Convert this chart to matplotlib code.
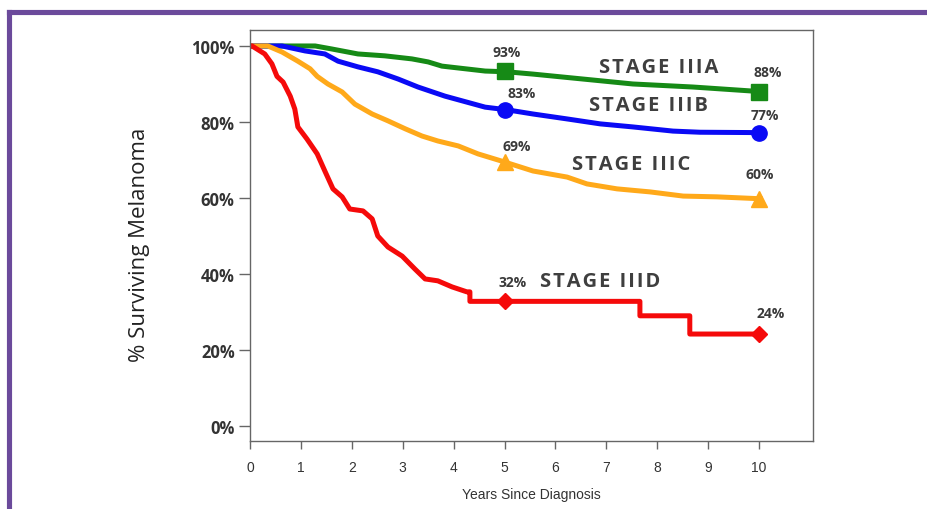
import matplotlib.pyplot as plt
from matplotlib.lines import Line2D

# Survival curves (years, % surviving)
years_a = [0, 1.28, 1.61, 2.12, 2.65, 3.18, 3.5, 3.77, 4.62, 5.05, 5.56, 6.54, 7.52, 8.7, 10.02]
surv_a = [100, 100, 99.2, 97.9, 97.4, 96.6, 95.8, 94.7, 93.4, 93.2, 92.6, 91.3, 90.0, 89.2, 88.0]

years_b = [0, 0.63, 1.08, 1.47, 1.73, 2.12, 2.51, 2.91, 3.3, 3.83, 4.62, 5.05, 5.56, 6.23, 6.88, 7.52, 8.31, 8.84, 10.02]
surv_b = [100, 100, 98.7, 97.9, 96.0, 94.5, 93.2, 91.3, 89.2, 86.8, 83.9, 83.2, 82.1, 80.8, 79.5, 78.7, 77.6, 77.3, 77.2]

years_c = [0, 0.35, 0.63, 0.94, 1.18, 1.32, 1.53, 1.81, 2.06, 2.4, 2.71, 3.05, 3.38, 3.69, 4.09, 4.48,
           4.97, 5.56, 6.23, 6.62, 7.21, 7.86, 8.51, 9.17, 10.02]
surv_c = [100, 100, 98.4, 96.0, 94.0, 92.0, 90.0, 87.9, 84.7, 82.1, 80.3, 78.2, 76.3, 75.0, 73.7, 71.6,
          69.6, 67.1, 65.5, 63.7, 62.4, 61.6, 60.5, 60.3, 59.8]

years_d = [0, 0.04, 0.29, 0.43, 0.53, 0.65, 0.79, 0.88, 0.94, 1.12, 1.32, 1.47, 1.63, 1.81, 1.96, 2.22,
           2.4, 2.51, 2.71, 2.99, 3.24, 3.44, 3.69, 3.97, 4.26, 4.32, 4.32, 7.66, 7.66, 8.64, 8.64, 10.02]
surv_d = [100, 100, 97.9, 95.3, 92.0, 90.5, 86.8, 83.4, 78.7, 75.5, 71.6, 67.1, 62.4, 60.3, 57.1, 56.6,
          54.5, 50.0, 47.1, 44.7, 41.3, 38.7, 38.2, 36.6, 35.3, 35.3, 32.8, 32.8, 29.0, 29.0, 24.2, 24.2]

# marker points at 5 and 10 years
mark_years = [5, 10]
mark_a = [93.4, 88.0]
mark_b = [83.2, 77.2]
mark_c = [69.6, 59.8]
mark_d = [32.8, 24.2]

labels_a = ['93%', '88%']
labels_b = ['83%', '77%']
labels_c = ['69%', '60%']
labels_d = ['32%', '24%']

yticks = [0, 20, 40, 60, 80, 100]
xticks = list(range(0, 11))

fig = plt.figure(figsize=(9.27, 5.10), dpi=100)
ax = fig.add_axes([0.2697, 0.1333, 0.6073, 0.8059])

lw = 3.6
ax.plot(years_a, surv_a, color='#168a16', lw=lw)
ax.plot(years_b, surv_b, color='#0a0af5', lw=lw)
ax.plot(years_c, surv_c, color='#ffa91a', lw=lw)
ax.plot(years_d, surv_d, color='#f50a0a', lw=lw)

ax.plot(mark_years, mark_a, 's', color='#168a16', ms=11, ls='none')
ax.plot(mark_years, mark_b, 'o', color='#0a0af5', ms=11, ls='none')
ax.plot(mark_years, mark_c, '^', color='#ffa91a', ms=11, ls='none')
ax.plot(mark_years, mark_d, 'D', color='#f50a0a', ms=8, ls='none')

pct_style = dict(fontsize=10, fontweight='bold', color='#3a3a3a', family='Open Sans', ha='center', va='center')
ax.text(5.05, 98.4, labels_a[0], **pct_style)
ax.text(10.18, 93.2, labels_a[1], **pct_style)
ax.text(5.34, 87.6, labels_b[0], **pct_style)
ax.text(10.12, 81.8, labels_b[1], **pct_style)
ax.text(5.23, 73.7, labels_c[0], **pct_style)
ax.text(10.02, 66.3, labels_c[1], **pct_style)
ax.text(5.15, 37.9, labels_d[0], **pct_style)
ax.text(10.22, 29.7, labels_d[1], **pct_style)


def spaced(s):
    # the original labels are letter-spaced
    return '\u200a'.join(s)


stage_style = dict(fontsize=14.5, fontweight='bold', color='#3f3f3f', family=['Open Sans', 'DejaVu Sans'],
                   ha='center', va='center')
ax.text(8.02, 94.5, spaced('STAGE IIIA'), **stage_style)
ax.text(7.82, 84.5, spaced('STAGE IIIB'), **stage_style)
ax.text(7.49, 68.9, spaced('STAGE IIIC'), **stage_style)
ax.text(6.88, 38.2, spaced('STAGE IIID'), **stage_style)

ax.set_xlim(0, 11.06)
ax.set_ylim(-3.95, 104.2)
ax.set_yticks(yticks)
ax.set_yticklabels([f'{v}%' for v in yticks], fontsize=12, fontweight='bold',
                   family='Open Sans', color='#333333')
ax.set_xticks(xticks)
ax.set_xticklabels([str(v) for v in xticks], fontsize=10, family='Liberation Sans', color='#333333')
ax.tick_params(axis='y', length=8, width=1, color='#666666', pad=3)
ax.tick_params(axis='x', length=6, width=1, color='#666666', pad=8)
for s in ax.spines.values():
    s.set_color('#666666')
    s.set_linewidth(1)

ax.set_xlabel('Years Since Diagnosis', fontsize=10, family='Liberation Sans', color='#333333', labelpad=9)
fig.text(140 / 927, 1 - 245 / 510, '% Surviving Melanoma', rotation=90, fontsize=16,
         family='Open Sans', color='#222222', ha='center', va='center')

# purple frame (left and top edges visible)
frame = '#6b4a9b'
fig.add_artist(Line2D([8.5 / 927, 8.5 / 927], [0, 1 - 12.5 / 510], color=frame, lw=3.7,
                      transform=fig.transFigure, solid_capstyle='projecting'))
fig.add_artist(Line2D([8.5 / 927, 1], [1 - 12.5 / 510, 1 - 12.5 / 510], color=frame, lw=3.7,
                      transform=fig.transFigure, solid_capstyle='projecting'))

fig.savefig('out.png', dpi=100)
